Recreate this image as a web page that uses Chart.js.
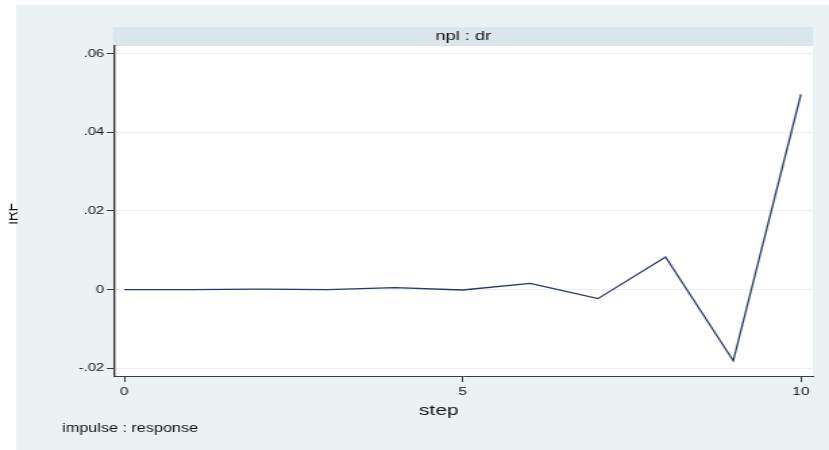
<!DOCTYPE html>
<html>
<head>
<meta charset="utf-8">
<title>IRF npl : dr</title>
<script src="https://cdn.jsdelivr.net/npm/chart.js@4/dist/chart.umd.min.js"></script>
<style>
  html, body { margin: 0; padding: 0; background: #ffffff; overflow: hidden; }
  #wrap { width: 829px; height: 450px; overflow: hidden; }
  /* the graph is laid out on a narrower canvas and widened to the page */
  #irf { display: block; width: 614px; height: 450px; transform: scaleX(1.35016); transform-origin: 0 0; }
</style>
</head>
<body>
<div id="wrap"><canvas id="irf" width="614" height="450"></canvas></div>
<script>
// Impulse-response of dr to an impulse in npl, steps 0..10
const steps = [0, 1, 2, 3, 4, 5, 6, 7, 8, 9, 10];
const irfValues = [0, 0, 0.0001, 0, 0.0005, -0.0001, 0.0016, -0.0023, 0.0083, -0.0181, 0.0496];

const xTickValues = [0, 5, 10];
const yTickValues = [-0.02, 0, 0.02, 0.04, 0.06];
const yTickLabels = ['-.02', '0', '.02', '.04', '.06'];

const panelTitle = 'npl : dr';
const yAxisTitle = 'IRF';
const xAxisTitle = 'step';
const noteText = 'impulse : response';

const FONT = "'Liberation Sans', Arial, sans-serif";
const TEXT = '#141414';
const OUTER_BG = '#eaf2f3';
const STRIP_BG = '#d9e6eb';
const GRID = '#e9f1f2';
const AXIS = '#3a3a3a';
const LINE = '#27376a';

// Stata-style graph region, subtitle strip, axis titles and note
const frame = {
  id: 'frame',
  beforeDraw(chart) {
    const { ctx, chartArea: a } = chart;
    ctx.save();
    ctx.fillStyle = '#ffffff';
    ctx.fillRect(0, 0, chart.width, chart.height);
    ctx.fillStyle = OUTER_BG;
    ctx.fillRect(12, 5, chart.width - 12, chart.height - 5);
    ctx.fillStyle = '#ffffff';
    ctx.fillRect(a.left, a.top, a.right - a.left, a.bottom - a.top);
    // subtitle strip above the plot region
    ctx.fillStyle = STRIP_BG;
    ctx.fillRect(a.left - 0.5, a.top - 19, a.right - a.left + 0.5, 19);
    ctx.fillStyle = TEXT;
    ctx.font = '13.5px ' + FONT;
    ctx.textAlign = 'center';
    ctx.textBaseline = 'middle';
    ctx.fillText(panelTitle, (a.left + a.right) / 2, a.top - 9.5);
    ctx.restore();
  },
  afterDraw(chart) {
    const { ctx } = chart;
    ctx.save();
    ctx.fillStyle = TEXT;
    ctx.textBaseline = 'middle';
    ctx.textAlign = 'center';
    ctx.font = '15.5px ' + FONT;
    ctx.fillText(xAxisTitle, 325, 411);
    ctx.textAlign = 'left';
    ctx.font = '12px ' + FONT;
    ctx.fillText(noteText, 46, 429);
    // rotated y-axis title, its top edge trimmed by the page margin
    ctx.beginPath();
    ctx.rect(6.7, 0, chart.width, chart.height);
    ctx.clip();
    ctx.translate(13.3, 214);
    ctx.rotate(-Math.PI / 2);
    ctx.textAlign = 'center';
    ctx.textBaseline = 'alphabetic';
    ctx.font = '13.5px ' + FONT;
    ctx.fillText(yAxisTitle, 0, 0);
    ctx.restore();
  }
};

new Chart(document.getElementById('irf'), {
  type: 'line',
  data: {
    datasets: [{
      label: panelTitle,
      data: steps.map((s, i) => ({ x: s, y: irfValues[i] })),
      borderColor: LINE,
      borderWidth: 1.3,
      pointRadius: 0,
      tension: 0,
      fill: false
    }]
  },
  options: {
    responsive: false,
    devicePixelRatio: 1,
    animation: false,
    layout: { padding: { left: 0, top: 46, right: 11.9, bottom: 0 } },
    plugins: {
      legend: { display: false },
      tooltip: { enabled: false },
      title: { display: false }
    },
    scales: {
      x: {
        type: 'linear',
        position: 'bottom',
        min: -0.157,
        max: 10.178,
        afterFit(scale) { scale.height = 74; },
        afterBuildTicks(scale) { scale.ticks = xTickValues.map(v => ({ value: v })); },
        grid: {
          display: true,
          drawOnChartArea: false,
          drawTicks: true,
          tickLength: 6,
          tickColor: AXIS,
          tickWidth: 1
        },
        border: { display: true, color: AXIS, width: 1 },
        ticks: {
          padding: 3,
          maxRotation: 0,
          color: TEXT,
          font: { family: FONT, size: 11.5 },
          callback: v => String(v)
        },
        title: { display: false }
      },
      y: {
        type: 'linear',
        position: 'left',
        min: -0.02196,
        max: 0.0619,
        afterFit(scale) { scale.width = 84.2; },
        afterBuildTicks(scale) { scale.ticks = yTickValues.map(v => ({ value: v })); },
        grid: {
          display: true,
          drawOnChartArea: true,
          color: GRID,
          lineWidth: 1,
          drawTicks: true,
          tickLength: 5,
          tickColor: AXIS,
          tickWidth: 1
        },
        border: { display: true, color: AXIS, width: 1.4 },
        ticks: {
          padding: 2,
          color: TEXT,
          font: { family: FONT, size: 11 },
          callback: (v) => {
            const i = yTickValues.findIndex(t => Math.abs(t - v) < 1e-9);
            return i >= 0 ? yTickLabels[i] : '';
          }
        },
        title: { display: false }
      }
    }
  },
  plugins: [frame]
});
</script>
</body>
</html>
